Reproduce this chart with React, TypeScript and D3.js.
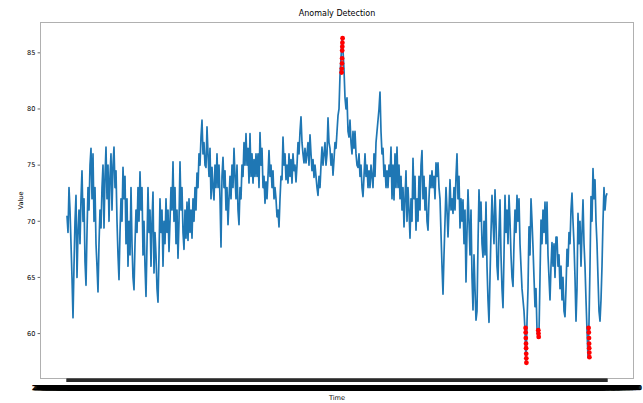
import React from "react";
import * as d3 from "d3";

// readings taken off the plot, one per pixel column (x=67 .. x=607)
const values = [
  70.5, 69, 73, 71, 68, 65, 61.4, 66, 70, 72.3,
  65, 69, 71, 68, 72, 74.5, 70, 72, 66.4, 64.3,
  69, 73, 71, 75, 76.5, 72, 76, 70, 73, 68,
  66, 63.7, 68, 71, 69.4, 73, 75, 69.4, 74, 76.6,
  72, 75, 70, 74, 76, 71, 75, 76.6, 73, 74.5,
  70, 67, 64.8, 69, 72, 70, 74.8, 72, 74, 68,
  72, 66, 70, 67, 73, 68, 65, 63.9, 68, 71,
  69, 73, 70, 74.4, 71, 73, 67, 70, 66, 63.3,
  68, 73, 69, 71, 66, 70, 72.6, 65.4, 69, 67,
  64, 62.8, 67, 72, 69, 71, 66, 70, 68, 72,
  69, 71, 67.3, 70, 73, 71, 75.3, 70, 73, 68,
  71, 66.7, 70, 75.3, 71, 73, 69, 67.5, 71, 68.5,
  71.7, 68.3, 72, 69, 71, 68.5, 72, 70, 73, 71,
  74.3, 73, 76, 75, 77.5, 79, 76, 77, 75, 74.8,
  78.4, 76, 74, 76.5, 72, 74.8, 73, 71.9, 75, 73,
  76, 73, 75, 72, 67.7, 74, 75.7, 73, 74.5, 71,
  73, 69.7, 72, 74, 72, 75, 73, 76.5, 74, 72,
  75, 71, 69.7, 73, 72, 75, 74, 77, 75, 77.8,
  75, 76.5, 73.4, 77.8, 74, 76, 73.4, 75.5, 74, 76,
  74, 76, 73, 77.9, 75, 76.5, 73, 74, 71.6, 73.5,
  72, 74, 76.3, 74, 75, 73, 74.5, 72, 73, 72,
  70.4, 71, 69.5, 72, 74, 73.7, 77.5, 75, 76, 73.7,
  75, 73.4, 76, 74, 75.5, 73.4, 76, 74.5, 75, 73.5,
  75, 77, 76, 78, 79.3, 77, 76, 75.2, 76.5, 75.2,
  76, 77, 75, 77.7, 76, 74.5, 75.5, 73.9, 75, 74,
  73, 72.3, 74, 73, 75, 76.6, 75, 76, 77, 75,
  76, 79.2, 77, 76.5, 75, 76, 74.1, 75.5, 77, 76.5,
  78, 79.4, 80, 83, 84.5, 86.3, 85.2, 83.5, 81, 80,
  81, 78, 77.5, 79, 77, 76, 78, 76.5, 78, 76,
  75, 74.8, 76, 74, 75, 73, 72.2, 74, 76, 74,
  75, 73, 74.5, 73, 75, 74, 73, 76, 74, 77,
  78, 79, 80, 81.5, 78, 76, 76.5, 74, 75, 73,
  74.5, 73, 75, 74, 76.6, 72, 75, 71.9, 76, 73,
  76.6, 73, 75, 72, 74, 71, 73, 69.5, 72, 74.5,
  70, 73, 71, 68.5, 72, 70, 75.6, 72, 74, 69.2,
  72, 70, 74, 71, 75, 76.3, 72, 74, 71, 73,
  70, 69.2, 72, 74.1, 73, 74.5, 73, 74, 72, 75.2,
  74, 75.2, 73, 72, 68.9, 66, 63.5, 67, 70, 73,
  71, 68.6, 71, 73.7, 71, 72, 70.7, 73, 71, 74,
  76, 72, 74, 69.4, 72, 70, 71.9, 68, 71, 64.6,
  69, 72.8, 70, 67, 71, 65, 62.1, 67, 64, 61.2,
  62, 68, 72.8, 70, 71.7, 68, 66.8, 70, 67, 71.7,
  66, 63, 61, 65, 69, 72.3, 70, 68, 72.8, 70,
  66, 64.8, 69, 71.9, 67, 64, 62.3, 67, 72.3, 69,
  71, 68, 72.3, 70, 67, 65, 64.2, 68, 71, 69,
  72.3, 70, 72, 68, 66, 64, 63, 62, 60.3, 57.4,
  61, 64, 69.5, 67, 72, 70, 67.7, 65, 62.4, 64,
  60.3, 59.6, 60, 65, 70.1, 68, 71, 69, 71.7, 68,
  71.7, 67, 65, 63, 66, 68.1, 66, 68, 65, 68.6,
  68.6, 66, 67, 64, 66, 63, 65, 62, 61.5, 64,
  67.5, 66, 69, 68, 71, 72.5, 70, 68, 65, 61.1,
  64, 70.7, 68, 70, 66, 69, 71.9, 68, 66, 63,
  60.3, 57.9, 61, 66, 72.2, 70, 74.7, 72, 73.7, 70,
  68, 65, 62, 61.1, 63, 66, 70, 73, 71, 72.2, 72.5,
];

// flagged points (position in the series, value)
const anomalyIndex = [
  274.6, 274.8, 275, 275.1, 275.2, 275.3, 275.4, 275.6,
  458.6, 458.7, 458.8, 459, 459.1, 459.2, 459.3, 459.4,
  471.3, 471.5, 471.7,
  521.6, 521.8, 522, 522.1, 522.2, 522.3, 522.4,
];
const anomalyValues = [
  83.25, 83.6, 84.05, 84.5, 85.2, 85.55, 85.9, 86.3,
  60.5, 60.1, 59.6, 59.1, 58.7, 58.2, 57.8, 57.4,
  60.3, 60.0, 59.7,
  60.5, 60.1, 59.6, 59.1, 58.7, 58.3, 57.9,
];

const startTime = new Date(2023, 0, 1, 0, 0, 0);
const fmt = d3.timeFormat("%Y-%m-%d %H:%M:%S");
const timeLabels = values.map((_, i) => fmt(d3.timeHour.offset(startTime, i)));
const yTicks = [60, 65, 70, 75, 80, 85];

const W = 643;
const H = 403;
const left = 40, right = 634, top = 22, bottom = 379;
const FONT = "DejaVu Sans, sans-serif";

export default function App() {
  const n = values.length;
  const x = d3.scaleLinear()
    .domain([-0.05 * (n - 1), (n - 1) * 1.05])
    .range([left, right]);

  const all = values.concat(anomalyValues);
  const lo = d3.min(all)!;
  const hi = d3.max(all)!;
  const pad = (hi - lo) * 0.05;
  const y = d3.scaleLinear().domain([lo - pad, hi + pad]).range([bottom, top]);

  const line = d3.line<number>()
    .x((_, i) => x(i))
    .y(d => y(d));

  return (
    <svg width={W} height={H} style={{position: "absolute", left: 0, top: 0}}
         fontFamily={FONT}>
      <rect width={W} height={H} fill="#fff"/>

      <path d={line(values)!} fill="none" stroke="#1f77b4" strokeWidth={1.7}
            strokeLinejoin="round"/>

      {anomalyIndex.map((t, i) =>
        <circle key={i} cx={x(t)} cy={y(anomalyValues[i])} r={2.4} fill="#ff0000"/>
      )}

      {/* spines */}
      <rect x={left + 0.5} y={top + 0.5} width={right - left - 1} height={bottom - top - 1}
            fill="none" stroke="#b0b0b0" strokeWidth={1}/>

      {/* y axis */}
      {yTicks.map(t =>
        <g key={t} transform={`translate(0,${y(t)})`}>
          <line x1={left - 2.4} x2={left} stroke="#000" strokeWidth={0.6}/>
          <text x={left - 4.5} dy="0.35em" textAnchor="end" fontSize={6.6} fill="#000">{t}</text>
        </g>
      )}

      {/* x axis: one tick per timestamp */}
      <g>
        {timeLabels.map((lab, i) =>
          <line key={i} x1={x(i)} x2={x(i)} y1={bottom - 0.5} y2={bottom + 3}
                stroke="#000" strokeWidth={1.2}/>
        )}
        {timeLabels.map((lab, i) =>
          <text key={i} x={x(i)} y={390} textAnchor="middle" fontSize={6.6} fill="#000"
                stroke="#000" strokeWidth={0.4}>{lab}</text>
        )}
      </g>

      <text x={(left + right) / 2} y={15.8} textAnchor="middle" fontSize={8} fill="#000">
        Anomaly Detection
      </text>
      <text transform={`translate(23,${(top + bottom) / 2}) rotate(-90)`} textAnchor="middle"
            fontSize={6.6} fill="#000">Value</text>
      <text x={(left + right) / 2} y={399.8} textAnchor="middle" fontSize={6.6} fill="#000">Time</text>
    </svg>
  );
}
